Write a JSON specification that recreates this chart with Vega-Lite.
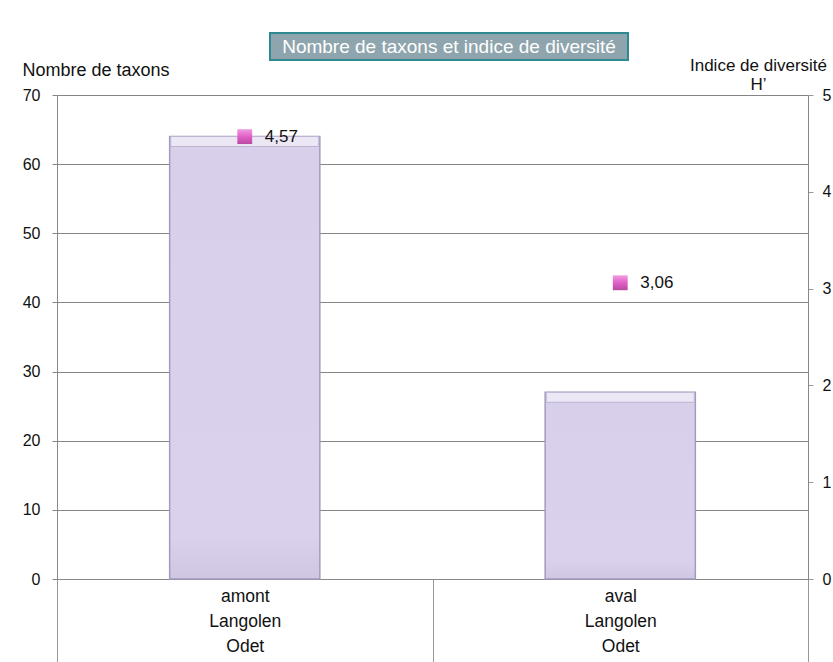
{
  "$schema": "https://vega.github.io/schema/vega-lite/v6.json",
  "width": 751,
  "height": 484,
  "autosize": {"type": "none"},
  "padding": {"left": 57, "top": 95, "right": 25, "bottom": 83},
  "background": "white",
  "config": {
    "view": {"stroke": null},
    "font": "Liberation Sans",
    "locale": {"number": {"decimal": ",", "thousands": " ", "grouping": [3], "currency": ["", " €"]}},
    "axis": {"labelFont": "Liberation Sans", "titleFont": "Liberation Sans", "labelColor": "#111", "titleColor": "#111", "labelFontSize": 16, "titleFontSize": 18, "titleFontWeight": "normal"}
  },
  "data": {"values": [
    {"station": "amont Langolen Odet", "taxons": 64, "h": 4.57},
    {"station": "aval Langolen Odet", "taxons": 27, "h": 3.06}
  ]},
  "layer": [
    {
      "encoding": {
        "x": {"field": "station", "type": "nominal", "sort": null,
          "scale": {"paddingInner": 0, "paddingOuter": 0},
          "axis": {"title": null, "labelAngle": 0, "tickBand": "extent", "tickSize": 83, "tickColor": "#999", "domainColor": "#888",
            "labelPadding": -75, "labelBaseline": "top", "labelLineHeight": 25, "labelFontSize": 17.5,
            "labelExpr": "split(datum.label, ' ')"}},
        "y": {"field": "taxons", "type": "quantitative", "scale": {"domain": [0, 70]},
          "axis": {"title": "Nombre de taxons", "titleAngle": 0, "titleAlign": "left", "titleBaseline": "alphabetic", "titleX": -35, "titleY": -20,
            "values": [0, 10, 20, 30, 40, 50, 60, 70], "grid": true, "gridColor": "#858585", "tickColor": "#858585", "domainColor": "#888",
            "tickSize": 5, "labelPadding": 12}}
      },
      "layer": [
        {"mark": {"type": "bar", "stroke": "#a39bbd", "strokeWidth": 1.5, "width": {"band": 0.4},
          "fill": {"x1": 0, "y1": 0, "x2": 0, "y2": 1, "gradient": "linear", "stops": [{"offset": 0, "color": "#d8cfea"}, {"offset": 0.9, "color": "#dad2ec"}, {"offset": 1, "color": "#cfc6e2"}]}}},
        {"mark": {"type": "tick", "thickness": 10, "size": 148, "yOffset": 5, "color": "#ebe7f4", "opacity": 1, "stroke": "#bdb5d2", "strokeWidth": 1}}
      ]
    },
    {
      "encoding": {
        "x": {"field": "station", "type": "nominal", "sort": null, "scale": {"paddingInner": 0, "paddingOuter": 0}, "axis": null},
        "y": {"field": "h", "type": "quantitative", "scale": {"domain": [0, 5]},
          "axis": {"orient": "right", "title": ["Indice de diversité", "H’"], "titleAngle": 0, "titleAlign": "center", "titleBaseline": "alphabetic",
            "titleFontSize": 17, "titleX": -50, "titleY": -25, "titleLineHeight": 19, "values": [0, 1, 2, 3, 4, 5], "grid": false,
            "tickColor": "#999", "domainColor": "#888", "tickSize": 5, "labelPadding": 9}}
      },
      "layer": [
        {"mark": {"type": "point", "shape": "square", "filled": true, "size": 220, "opacity": 1,
          "fill": {"x1": 0, "y1": 0, "x2": 0, "y2": 1, "gradient": "linear", "stops": [{"offset": 0, "color": "#f29ae0"}, {"offset": 0.5, "color": "#e060c8"}, {"offset": 1, "color": "#b84aa0"}]}}},
        {"mark": {"type": "text", "align": "left", "baseline": "middle", "dx": 20, "fontSize": 17, "color": "#111"},
          "encoding": {"text": {"field": "h", "type": "quantitative", "format": ".2f"}}}
      ]
    },
    {
      "data": {"values": [{"t": "Nombre de taxons et indice de diversité"}]},
      "encoding": {},
      "layer": [
        {"mark": {"type": "rect", "fill": "#8fa5ad", "stroke": "#2d8a92", "strokeWidth": 2},
          "encoding": {
            "x": {"datum": 0.2836, "type": "quantitative", "scale": {"domain": [0, 1]}, "axis": null},
            "x2": {"datum": 0.7603},
            "y": {"datum": 78.97, "type": "quantitative", "scale": {"domain": [0, 70]}, "axis": null},
            "y2": {"datum": 75.06}
          }},
        {"mark": {"type": "text", "align": "center", "baseline": "middle", "color": "white", "fontSize": 19},
          "encoding": {
            "x": {"datum": 0.522, "type": "quantitative", "scale": {"domain": [0, 1]}, "axis": null},
            "y": {"datum": 77.0, "type": "quantitative", "scale": {"domain": [0, 70]}, "axis": null},
            "text": {"field": "t"}
          }}
      ]
    }
  ],
  "resolve": {"scale": {"x": "independent", "y": "independent"}}
}
